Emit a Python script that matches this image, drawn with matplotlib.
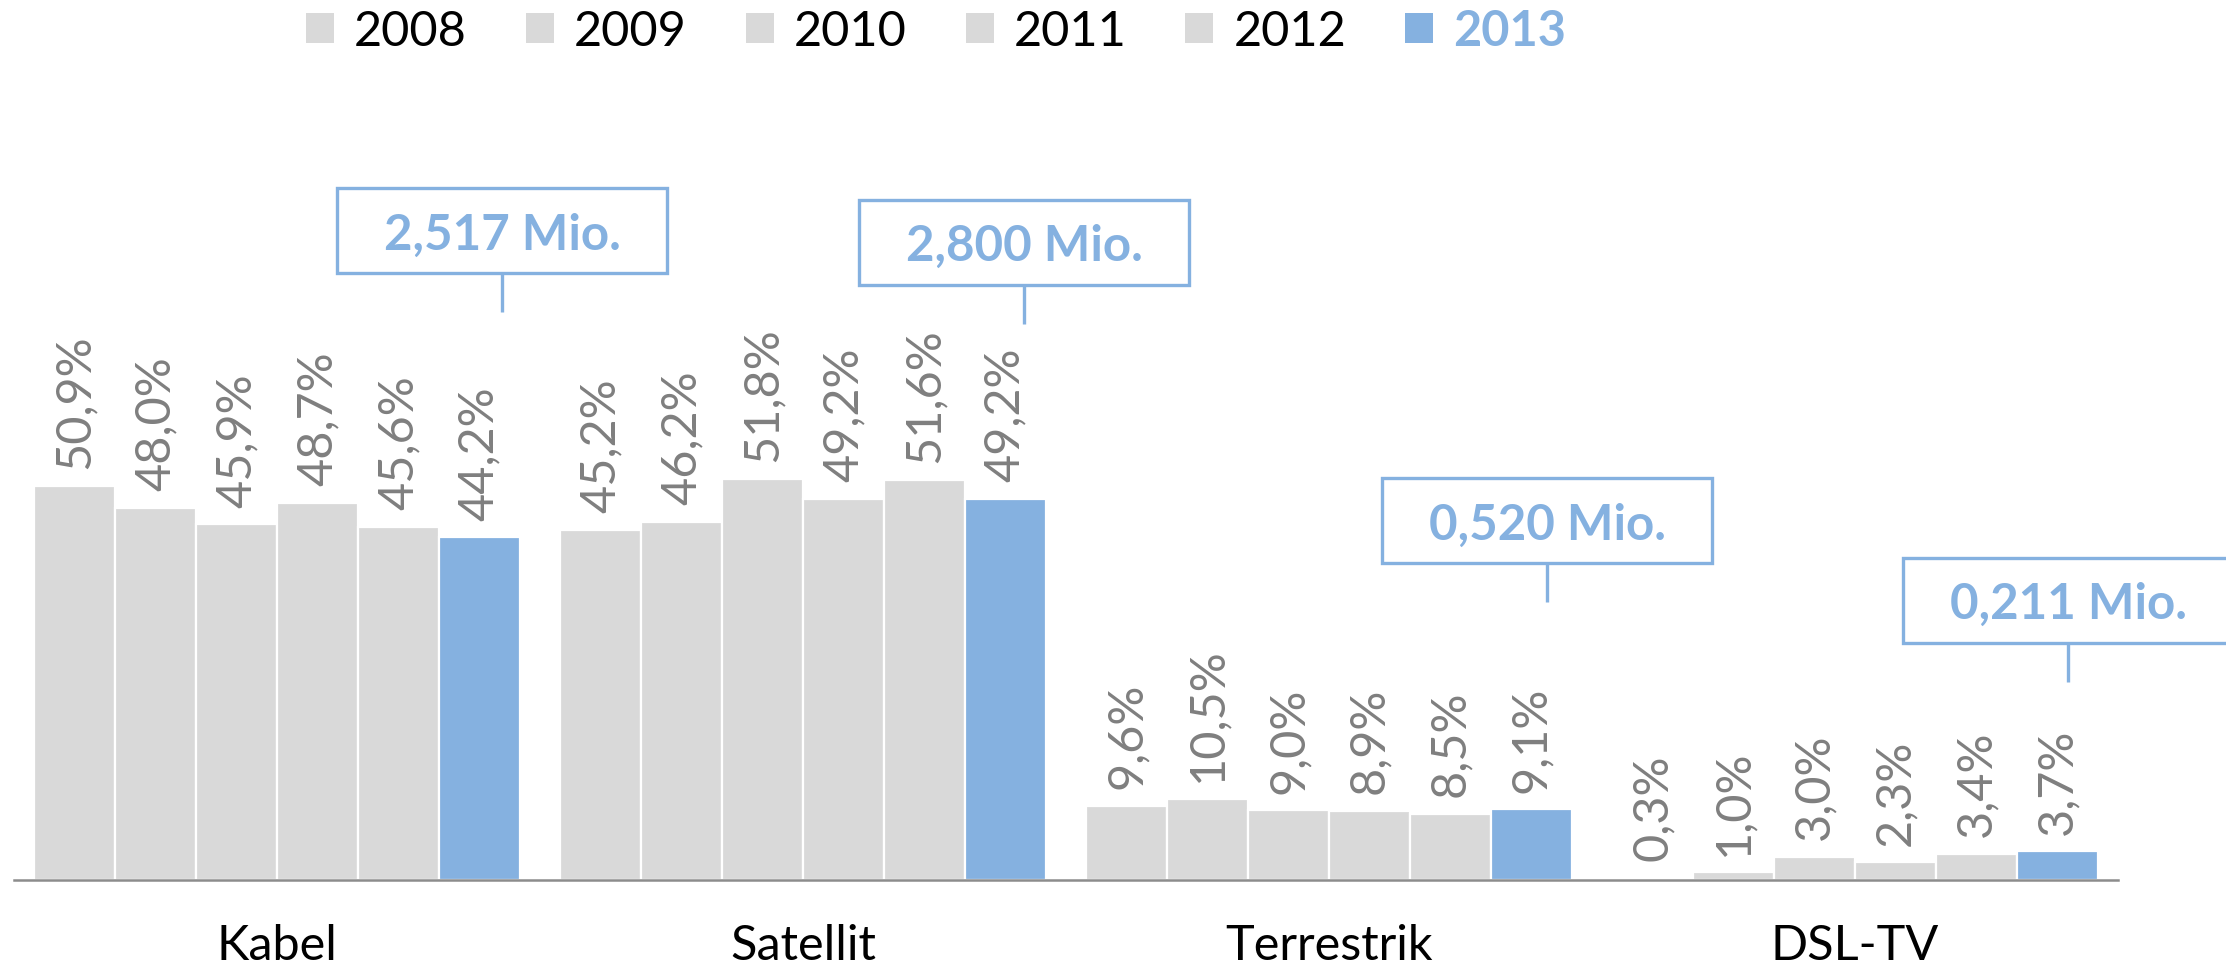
import matplotlib
matplotlib.use('Agg')
import matplotlib.pyplot as plt
from matplotlib.patches import Rectangle
from matplotlib.lines import Line2D
import matplotlib.transforms as mtransforms
import numpy as np

# ---------------- data ----------------
categories = ['Kabel', 'Satellit', 'Terrestrik', 'DSL-TV']
years = ['2008', '2009', '2010', '2011', '2012', '2013']
share_2008 = [50.9, 45.2, 9.6, 0.3]
share_2009 = [48.0, 46.2, 10.5, 1.0]
share_2010 = [45.9, 51.8, 9.0, 3.0]
share_2011 = [48.7, 49.2, 8.9, 2.3]
share_2012 = [45.6, 51.6, 8.5, 3.4]
share_2013 = [44.2, 49.2, 9.1, 3.7]
callout_2013 = ['2,517 Mio.', '2,800 Mio.', '0,520 Mio.', '0,211 Mio.']

series = [share_2008, share_2009, share_2010, share_2011, share_2012, share_2013]

# ---------------- style ----------------
GRAY = '#D9D9D9'
BLUE = '#85B1E0'
LABEL_GRAY = '#7F7F7F'
AXIS_GRAY = '#8C8C8C'
FONT = 'Lato'
FS = 35
FS_CALLOUT = 35.5

W, H, DPI = 2226, 972, 100
fig = plt.figure(figsize=(W / DPI, H / DPI), dpi=DPI)
ax = fig.add_axes([14 / W, 92 / H, 2104 / W, 775 / H])

x = np.arange(len(categories))
bw = 0.1538
colors = [GRAY] * 5 + [BLUE]

for j, vals in enumerate(series):
    xs = x + (j - 2.5) * bw
    ax.bar(xs, vals, width=bw, color=colors[j], edgecolor='white',
           linewidth=1.6, label=years[j], zorder=2)
    for xi, v in zip(xs, vals):
        ax.annotate(f"{v:.1f}".replace('.', ',') + '%', (xi, v),
                    xytext=(0, 12), textcoords='offset points',
                    rotation=90, ha='center', va='bottom',
                    fontsize=FS, family=FONT, color=LABEL_GRAY)

ax.set_xlim(-0.5, 3.5)
ax.set_ylim(0, 100)
for s in ['top', 'right', 'left']:
    ax.spines[s].set_visible(False)
ax.spines['bottom'].set_color(AXIS_GRAY)
ax.spines['bottom'].set_linewidth(1.8)
ax.set_yticks([])
ax.set_xticks(x, categories)
ax.tick_params(axis='x', length=0, pad=32)
for t in ax.get_xticklabels():
    t.set_fontsize(FS)
    t.set_family(FONT)
    t.set_color('black')

# ---------------- callouts for 2013 ----------------
callout_dx_px = [23, 19, 16, 11]
callout_rise_px = [225, 175, 207, 169]
stem_px = 39
box_w, box_h = 330, 85
ident = mtransforms.IdentityTransform()
for i in range(len(categories)):
    xb = x[i] + (5 - 2.5) * bw
    px, py = ax.transData.transform((xb, share_2013[i]))
    cx = px + callout_dx_px[i]
    y_end = py + callout_rise_px[i]
    y_bot = y_end + stem_px
    fig.add_artist(Line2D([cx, cx], [y_end, y_bot], color=BLUE, lw=2.4,
                          transform=ident, solid_capstyle='butt'))
    fig.add_artist(Rectangle((cx - box_w / 2, y_bot), box_w, box_h,
                             facecolor='white', edgecolor=BLUE, lw=2.4,
                             transform=ident))
    fig.text(cx, y_bot + box_h / 2, callout_2013[i], transform=ident,
             ha='center', va='center_baseline', fontsize=FS_CALLOUT, family=FONT,
             fontweight='bold', color=BLUE)

# ---------------- legend ----------------
handles = [Rectangle((0, 0), 1, 1, facecolor=c, edgecolor='none') for c in colors]
em_px = FS * DPI / 72
leg = fig.legend(handles, years, loc='center', bbox_to_anchor=(936 / W, 1 - 31 / H),
                 ncol=6, frameon=False, handlelength=28 / em_px, handleheight=28 / em_px,
                 handletextpad=20 / em_px, columnspacing=59 / em_px,
                 prop={'family': FONT, 'size': FS})
for k, t in enumerate(leg.get_texts()):
    if k == 5:
        t.set_color(BLUE)
        t.set_fontweight('bold')
    else:
        t.set_color('black')

fig.savefig('out.png', dpi=DPI)
